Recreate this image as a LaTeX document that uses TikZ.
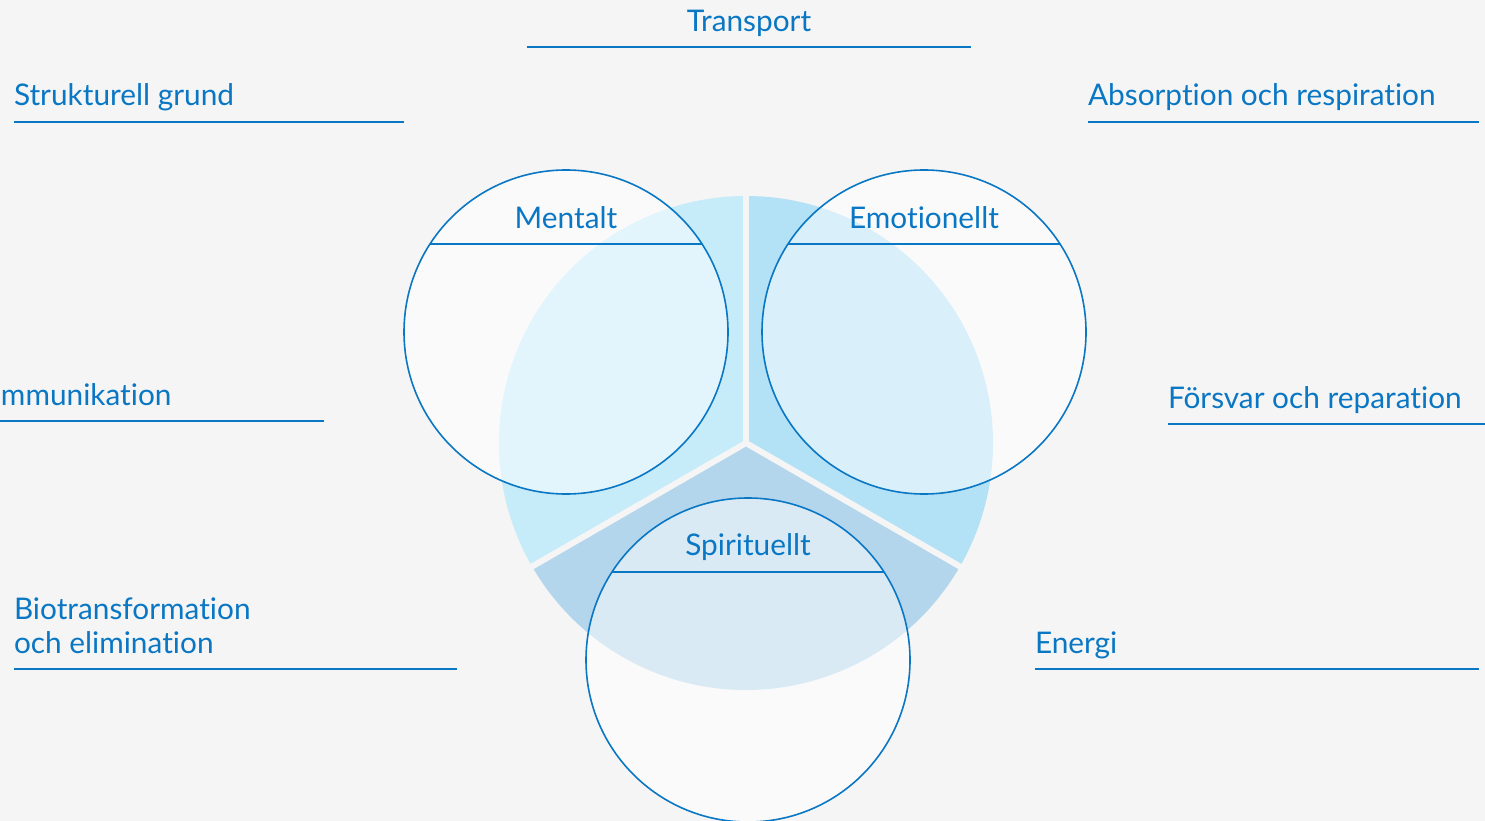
\documentclass[tikz,border=0pt]{standalone}
\usepackage{fontspec}
\setmainfont[Ligatures={NoCommon}]{Lato}
\usetikzlibrary{calc}
\definecolor{bg}{HTML}{F5F5F5}
\definecolor{ink}{HTML}{0A77C4}
\definecolor{secL}{HTML}{C6EBF9}
\definecolor{secR}{HTML}{B3E1F5}
\definecolor{secB}{HTML}{B3D6EC}
\begin{document}
\begin{tikzpicture}[x=1pt,y=-1pt,
  lbl/.style={text=ink, font=\fontsize{29.8}{36}\selectfont, inner sep=0pt, outer sep=0pt},
  uline/.style={draw=ink, line width=2pt},
  gap/.style={draw=bg, line width=6pt},
  ring/.style={circle, draw=ink, line width=1.6pt, fill=white, fill opacity=0.5, minimum size=324pt, inner sep=0pt, outer sep=0pt},
  chord/.style={draw=ink, line width=1.6pt}]
\fill[bg] (0,0) rectangle (1485,821);
\useasboundingbox (0,0) rectangle (1485,821);
% big circle sectors
\coordinate (c) at (746,443);
\fill[secL] (c) -- ++(150:247) arc[start angle=150, end angle=270, radius=247] -- cycle;
\fill[secR] (c) -- ++(270:247) arc[start angle=270, end angle=390, radius=247] -- cycle;
\fill[secB] (c) -- ++(30:247) arc[start angle=30, end angle=150, radius=247] -- cycle;
\coordinate (gu) at ($(c)+(270:252)$);
\coordinate (gl) at ($(c)+(150:252)$);
\coordinate (gr) at ($(c)+(30:252)$);
\draw[gap] (c) -- (gu);
\draw[gap] (c) -- (gl);
\draw[gap] (c) -- (gr);
% small circles
\node[ring] (m) at (566,332) {};
\node[ring] (e) at (924,332) {};
\node[ring] (s) at (748,660) {};
\draw[chord] ($(m)+(-136,-88)$) -- ($(m)+(136,-88)$);
\draw[chord] ($(e)+(-136,-88)$) -- ($(e)+(136,-88)$);
\draw[chord] ($(s)+(-136,-88)$) -- ($(s)+(136,-88)$);
\node[lbl, anchor=base] (mt) at (566,228) {Mentalt};
\node[lbl, anchor=base] (et) at (924,228) {Emotionellt};
\node[lbl, anchor=base] (st) at (748,555) {Spirituellt};
% outer labels
\node[lbl, anchor=base] (l1) at (749,32) {Transport};
\coordinate (u1a) at (527,47); \coordinate (u1b) at (971,47);
\draw[uline] (u1a) -- (u1b);
\node[lbl, anchor=base west] (l2) at (14,106) {Strukturell grund};
\coordinate (u2a) at (14,122); \coordinate (u2b) at (404,122);
\draw[uline] (u2a) -- (u2b);
\node[lbl, anchor=base west] (l3) at (1088,106) {Absorption och respiration};
\coordinate (u3a) at (1088,122); \coordinate (u3b) at (1479,122);
\draw[uline] (u3a) -- (u3b);
\node[lbl, anchor=base west] (l4) at (1,405) {mmunikation};
\coordinate (u4a) at (0,421); \coordinate (u4b) at (324,421);
\draw[uline] (u4a) -- (u4b);
\node[lbl, anchor=base west] (l5) at (1168,408) {Försvar och reparation};
\coordinate (u5a) at (1168,424); \coordinate (u5b) at (1485,424);
\draw[uline] (u5a) -- (u5b);
\node[lbl, anchor=base west] (l6a) at (14,619) {Biotransformation};
\node[lbl, anchor=base west] (l6b) at (14,653) {och elimination};
\coordinate (u6a) at (14,669); \coordinate (u6b) at (457,669);
\draw[uline] (u6a) -- (u6b);
\node[lbl, anchor=base west] (l7) at (1035,653) {Energi};
\coordinate (u7a) at (1035,669); \coordinate (u7b) at (1479,669);
\draw[uline] (u7a) -- (u7b);
\end{tikzpicture}
\end{document}
